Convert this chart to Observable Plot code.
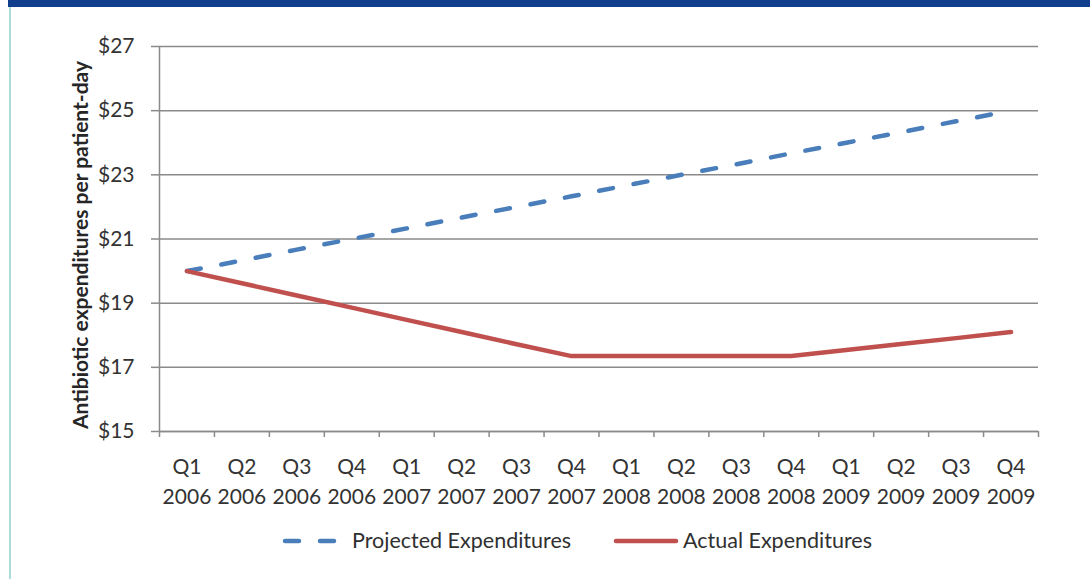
<!DOCTYPE html>
<html>
<head>
<meta charset="utf-8">
<script src="https://cdn.jsdelivr.net/npm/d3@7"></script>
<script src="https://cdn.jsdelivr.net/npm/@observablehq/plot@0.6"></script>
<style>
  html, body { margin: 0; padding: 0; background: #fff; }
  #wrap { position: relative; width: 1090px; height: 579px; overflow: hidden; background: #fff; font-family: Lato, "Noto Sans", sans-serif; color: #303030; }
  #banner { position: absolute; left: 8px; top: 0; width: 1082px; height: 7px; background: #123f8d; }
  #edge { position: absolute; left: 9px; top: 7px; width: 2px; height: 572px; background: #acdcd8; }
  #chart { position: absolute; left: 0; top: 0; }
  #legend { position: absolute; top: 526px; left: 0; width: 1090px; height: 28px; font-size: 21.5px; }
  .lg { position: absolute; top: 0; line-height: 28px; white-space: nowrap; }
  .sw { position: absolute; top: 0; }
</style>
</head>
<body>
<div id="wrap">
  <div id="banner"></div>
  <div id="edge"></div>
  <div id="chart"></div>
  <div id="legend">
    <svg class="sw" style="left:281px" width="62" height="28"><line x1="4" y1="15" x2="58" y2="15" stroke="#4a7ebb" stroke-width="4.5" stroke-linecap="round" stroke-dasharray="14,21"/></svg>
    <span class="lg" style="left:352px">Projected Expenditures</span>
    <svg class="sw" style="left:612px" width="68" height="28"><line x1="4" y1="15" x2="64" y2="15" stroke="#c0504d" stroke-width="4.5" stroke-linecap="round"/></svg>
    <span class="lg" style="left:683px">Actual Expenditures</span>
  </div>
</div>
<script>
const quarters = ["Q1","Q2","Q3","Q4","Q1","Q2","Q3","Q4","Q1","Q2","Q3","Q4","Q1","Q2","Q3","Q4"];
const years = ["2006","2006","2006","2006","2007","2007","2007","2007","2008","2008","2008","2008","2009","2009","2009","2009"];
const projected = [20.0, 20.33, 20.67, 21.0, 21.33, 21.67, 22.0, 22.33, 22.67, 23.0, 23.33, 23.67, 24.0, 24.33, 24.67, 25.0];
const actual = [20.0, 19.62, 19.24, 18.86, 18.48, 18.1, 17.72, 17.35, 17.35, 17.35, 17.35, 17.35, 17.54, 17.73, 17.91, 18.1];
const yTicks = [15, 17, 19, 21, 23, 25, 27];
const yLabel = "Antibiotic expenditures per patient-day";

const idx = d3.range(quarters.length);
const bounds = d3.range(-0.5, quarters.length, 1);
const grey = "#8a8a8a";

const chart = Plot.plot({
  width: 1090,
  height: 522,
  marginLeft: 159,
  marginRight: 52,
  marginTop: 46,
  marginBottom: 91,
  style: { fontFamily: "Lato, 'Noto Sans', sans-serif", fontSize: "21px", color: "#333", background: "transparent" },
  x: { domain: [-0.5, quarters.length - 0.5], label: null },
  y: { domain: [15, 27], label: null },
  marks: [
    Plot.gridY(yTicks, { stroke: grey, strokeOpacity: 1, strokeWidth: 1.5 }),
    Plot.axisY(yTicks, { tickSize: 8, tickPadding: 17, tickFormat: d => "$" + d, stroke: grey, strokeWidth: 1.5, label: null, fontSize: 21 }),
    Plot.ruleX([-0.5], { y1: 15, y2: 27, stroke: grey, strokeWidth: 1.5 }),
    Plot.ruleY([15], { stroke: grey, strokeWidth: 1.5 }),
    Plot.axisX(bounds, { tickSize: 6, tickFormat: () => "", stroke: grey, strokeWidth: 1.5, label: null }),
    Plot.axisX(idx, { tickSize: 0, tickPadding: 22, tickFormat: i => quarters[i] + "\n" + years[i], lineHeight: 1.4, label: null, fontSize: 21 }),
    Plot.text([yLabel], { frameAnchor: "left", textAnchor: "middle", rotate: -90, dx: -78, dy: 6, fontWeight: "bold", fontSize: 21, fill: "#262626" }),
    Plot.line(projected, { x: (d, i) => i, y: d => d, stroke: "#4a7ebb", strokeWidth: 4.5, strokeDasharray: "14,21", strokeLinecap: "round" }),
    Plot.line(actual, { x: (d, i) => i, y: d => d, stroke: "#c0504d", strokeWidth: 4.5, strokeLinecap: "round", strokeLinejoin: "round" })
  ]
});
document.getElementById("chart").appendChild(chart);
</script>
</body>
</html>
